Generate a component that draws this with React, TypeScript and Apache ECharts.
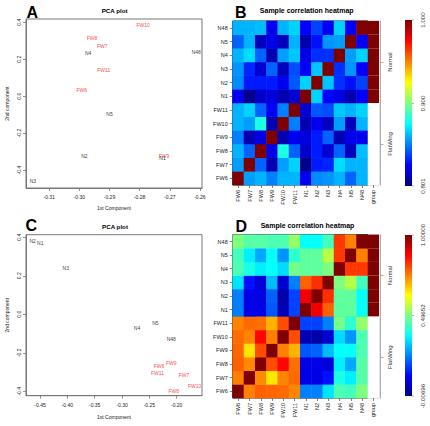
import React, { useEffect, useRef } from "react";
import * as echarts from "echarts";

// Sample names, in plotting order (bottom-to-top rows, left-to-right columns)
const samples = ["FW6", "FW7", "FW8", "FW9", "FW10", "FW11", "N1", "N2", "N3", "N4", "N5", "N48"];
const sampleGroup = ["FlatWing", "FlatWing", "FlatWing", "FlatWing", "FlatWing", "FlatWing",
  "Normal", "Normal", "Normal", "Normal", "Normal", "Normal"];
const heatColumns = [...samples, "group"];
const groupLevels = ["FlatWing", "Normal"];

// PCA, first analysis (panel A)
const pcaA_pc1 = [-0.2992, -0.2924, -0.2958, -0.2719, -0.2788, -0.2919, -0.2724, -0.2983, -0.3154, -0.2971, -0.29, -0.2612];
const pcaA_pc2 = [0.034, 0.274, 0.317, -0.322, 0.385, 0.144, -0.337, -0.326, -0.457, 0.236, -0.097, 0.238];
const pcaA_xTicks = [-0.31, -0.3, -0.29, -0.28, -0.27, -0.26];
const pcaA_yTicks = [-0.4, -0.2, 0, 0.2, 0.4];

// PCA, second analysis (panel C)
const pcaC_pc1 = [-0.2325, -0.1866, -0.2055, -0.2099, -0.1671, -0.235, -0.4494, -0.4634, -0.4029, -0.2725, -0.239, -0.2099];
const pcaC_pc2 = [-0.268, -0.317, -0.397, -0.254, -0.371, -0.306, 0.372, 0.382, 0.242, -0.069, -0.043, -0.131];
const pcaC_xTicks = [-0.45, -0.4, -0.35, -0.3, -0.25, -0.2];
const pcaC_yTicks = [-0.4, -0.2, 0, 0.2, 0.4];

// Sample correlation matrices (rows/cols follow `samples`)
const corrB = [
  [1, 0.857, 0.861, 0.851, 0.861, 0.861, 0.823, 0.853, 0.855, 0.861, 0.845, 0.861],
  [0.857, 1, 0.845, 0.811, 0.857, 0.867, 0.803, 0.831, 0.833, 0.869, 0.861, 0.861],
  [0.861, 0.845, 1, 0.821, 0.881, 0.845, 0.815, 0.831, 0.817, 0.845, 0.813, 0.863],
  [0.851, 0.811, 0.821, 1, 0.811, 0.823, 0.819, 0.831, 0.845, 0.811, 0.821, 0.823],
  [0.861, 0.857, 0.881, 0.811, 1, 0.851, 0.811, 0.823, 0.813, 0.857, 0.813, 0.861],
  [0.861, 0.867, 0.845, 0.823, 0.851, 1, 0.817, 0.843, 0.841, 0.865, 0.861, 0.867],
  [0.823, 0.803, 0.815, 0.819, 0.811, 0.817, 1, 0.867, 0.825, 0.821, 0.81, 0.825],
  [0.853, 0.831, 0.831, 0.831, 0.823, 0.843, 0.867, 1, 0.865, 0.835, 0.829, 0.839],
  [0.855, 0.833, 0.817, 0.845, 0.813, 0.841, 0.825, 0.865, 1, 0.835, 0.855, 0.825],
  [0.861, 0.869, 0.845, 0.811, 0.857, 0.865, 0.821, 0.835, 0.835, 1, 0.857, 0.867],
  [0.845, 0.861, 0.813, 0.821, 0.813, 0.861, 0.81, 0.829, 0.855, 0.857, 1, 0.825],
  [0.861, 0.861, 0.863, 0.823, 0.861, 0.867, 0.825, 0.839, 0.825, 0.867, 0.825, 1],
];
const corrB_range = [0.801, 1.0];
const corrB_labels = ["0.801", "0.900", "1.000"];

const corrD = [
  [1, 0.748, 0.778, 0.773, 0.768, 0.743, 0.245, 0.245, 0.345, 0.446, 0.436, 0.496],
  [0.748, 1, 0.738, 0.648, 0.743, 0.768, 0.094, 0.094, 0.134, 0.396, 0.356, 0.456],
  [0.778, 0.738, 1, 0.799, 0.869, 0.763, 0.094, 0.094, 0.084, 0.356, 0.285, 0.456],
  [0.773, 0.648, 0.799, 1, 0.748, 0.698, 0.204, 0.215, 0.305, 0.376, 0.376, 0.446],
  [0.768, 0.743, 0.869, 0.748, 1, 0.799, 0.043, 0.033, 0.074, 0.335, 0.265, 0.446],
  [0.743, 0.768, 0.763, 0.698, 0.799, 1, 0.184, 0.184, 0.245, 0.486, 0.416, 0.517],
  [0.245, 0.094, 0.094, 0.204, 0.043, 0.184, 1, 0.889, 0.778, 0.466, 0.466, 0.376],
  [0.245, 0.094, 0.094, 0.215, 0.033, 0.184, 0.889, 1, 0.829, 0.466, 0.466, 0.376],
  [0.345, 0.134, 0.084, 0.305, 0.074, 0.245, 0.778, 0.829, 1, 0.496, 0.552, 0.436],
  [0.446, 0.396, 0.356, 0.376, 0.335, 0.486, 0.466, 0.466, 0.496, 1, 0.819, 0.819],
  [0.436, 0.356, 0.285, 0.376, 0.265, 0.416, 0.466, 0.466, 0.552, 0.819, 1, 0.748],
  [0.496, 0.456, 0.456, 0.446, 0.446, 0.517, 0.376, 0.376, 0.436, 0.819, 0.748, 1],
];
const corrD_range = [-0.00696, 1.0];
const corrD_labels = ["-0.00696", "0.49652", "1.00000"];

// ---- styling / layout ----
const FONT = "'Liberation Sans', Arial, Helvetica, sans-serif";
const JET = ["#00007F", "#0000FF", "#007FFF", "#00FFFF", "#7FFF7F", "#FFFF00", "#FF7F00", "#FF0000", "#7F0000"];
const GROUP_FILL: Record<string, string> = { Normal: "#7F0000", FlatWing: "#FFFFFF" };
const LABEL_COLOR: Record<string, string> = { Normal: "#000000", FlatWing: "#EE1111" };

const GA = { left: 26, top: 19, width: 176, height: 169 };
const GB = { left: 232.7, top: 21, width: 146.3, height: 164 };
const GC = { left: 26, top: 234.7, width: 176, height: 161 };
const GD = { left: 232.7, top: 234.7, width: 146.3, height: 163.3 };

const BAR_X = 405;
const BAR_W = 7;

function pcaSeries(pc1: number[], pc2: number[], xAxisIndex: number, yAxisIndex: number) {
  return groupLevels.map((g) => ({
    type: "scatter",
    xAxisIndex,
    yAxisIndex,
    symbol: "circle",
    symbolSize: 1,
    itemStyle: { color: "rgba(0,0,0,0)" },
    silent: true,
    label: {
      show: true,
      position: "inside",
      formatter: "{b}",
      fontSize: 5,
      fontFamily: FONT,
      color: LABEL_COLOR[g],
      textBorderWidth: 0,
      textBorderColor: "rgba(0,0,0,0)",
    },
    data: samples
      .map((s, i) => ({ name: s, value: [pc1[i], pc2[i]], g: sampleGroup[i] }))
      .filter((d) => d.g === g)
      .map((d) => ({ name: d.name, value: d.value })),
  }));
}

function heatData(m: number[][]) {
  const out: number[][] = [];
  m.forEach((row, i) => row.forEach((v, j) => out.push([j, i, v])));
  return out;
}

function groupSeries(xAxisIndex: number, yAxisIndex: number) {
  return {
    type: "custom",
    xAxisIndex,
    yAxisIndex,
    silent: true,
    data: samples.map((s, i) => [samples.length, i, sampleGroup[i] === "Normal" ? 1 : 0]),
    renderItem: (params: any, api: any) => {
      const p = api.coord([api.value(0), api.value(1)]);
      const sz = api.size([1, 1]);
      return {
        type: "rect",
        shape: { x: p[0] - sz[0] / 2, y: p[1] - sz[1] / 2, width: sz[0], height: sz[1] },
        style: { fill: api.value(2) ? GROUP_FILL.Normal : GROUP_FILL.FlatWing, stroke: null },
      };
    },
  };
}

function pcaXAxis(gridIndex: number, min: number, max: number, ticks: number[], gap: number, margin: number) {
  return {
    type: "value",
    gridIndex,
    position: "bottom",
    min,
    max,
    name: "1st Component",
    nameLocation: "middle",
    nameGap: gap,
    nameTextStyle: { fontSize: 5, fontFamily: FONT, color: "#222" },
    axisLine: { show: true, onZero: false, lineStyle: { color: "#777", width: 1 } },
    axisTick: { show: true, length: 3, customValues: ticks, lineStyle: { color: "#777", width: 0.8 } },
    axisLabel: {
      customValues: ticks,
      formatter: (v: number) => v.toFixed(2),
      fontSize: 5,
      fontFamily: FONT,
      color: "#222",
      margin,
    },
    splitLine: { show: false },
  };
}

function pcaYAxis(gridIndex: number, min: number, max: number, ticks: number[]) {
  return {
    type: "value",
    gridIndex,
    position: "left",
    min,
    max,
    name: "2nd component",
    nameLocation: "middle",
    nameGap: 17,
    nameTextStyle: { fontSize: 5, fontFamily: FONT, color: "#222" },
    axisLine: { show: true, onZero: false, lineStyle: { color: "#777", width: 1 } },
    axisTick: { show: true, length: 3, customValues: ticks, lineStyle: { color: "#777", width: 0.8 } },
    axisLabel: {
      customValues: ticks,
      formatter: (v: number) => v.toFixed(1),
      rotate: 90,
      fontSize: 5,
      fontFamily: FONT,
      color: "#222",
      margin: 5,
    },
    splitLine: { show: false },
  };
}

function heatXAxis(gridIndex: number) {
  return {
    type: "category",
    gridIndex,
    position: "bottom",
    data: heatColumns,
    axisLine: { show: false, onZero: false },
    axisTick: { show: true, alignWithLabel: true, length: 3, lineStyle: { color: "#666", width: 0.8 } },
    axisLabel: { rotate: 90, interval: 0, fontSize: 5.5, fontFamily: FONT, color: "#222", margin: 5 },
    splitLine: { show: false },
  };
}

function heatYAxis(gridIndex: number) {
  return {
    type: "category",
    gridIndex,
    position: "left",
    data: samples,
    axisLine: { show: false, onZero: false },
    axisTick: { show: true, alignWithLabel: true, length: 3, lineStyle: { color: "#666", width: 0.8 } },
    axisLabel: { interval: 0, fontSize: 5.5, fontFamily: FONT, color: "#222", margin: 5 },
    splitLine: { show: false },
  };
}

function groupAxis(gridIndex: number) {
  return {
    type: "category",
    gridIndex,
    position: "right",
    offset: 1.5,
    data: groupLevels,
    axisLine: { show: true, onZero: false, lineStyle: { color: "#999", width: 0.8 } },
    axisTick: { show: true, alignWithLabel: true, length: 3, lineStyle: { color: "#999", width: 0.8 } },
    axisLabel: { rotate: 90, fontSize: 6, fontFamily: FONT, color: "#333", margin: 6 },
    splitLine: { show: false },
  };
}

function blockLines(g: { left: number; top: number; width: number; height: number }) {
  const cw = g.width / heatColumns.length;
  const half = samples.length / 2;
  const right = g.left + cw * samples.length;
  const midY = g.top + g.height / 2;
  const line = { stroke: "#000", lineWidth: 0.9 };
  return [
    { type: "rect", silent: true, shape: { x: g.left, y: g.top, width: cw * samples.length, height: g.height }, style: { fill: "none", ...line } },
    { type: "line", silent: true, shape: { x1: g.left + cw * half, y1: g.top, x2: g.left + cw * half, y2: g.top + g.height }, style: line },
    { type: "line", silent: true, shape: { x1: g.left, y1: midY, x2: right, y2: midY }, style: line },
    { type: "rect", silent: true, shape: { x: right, y: g.top, width: cw, height: g.height }, style: { fill: "none", stroke: "#aaa", lineWidth: 0.6 } },
  ];
}

function colorBar(top: number, height: number, range: number[], labels: string[]) {
  // top of the bar is the maximum, so run the palette from last to first
  const stops = JET.slice().reverse().map((c, i) => ({ offset: i / (JET.length - 1), color: c }));
  const els: any[] = [
    {
      type: "rect",
      silent: true,
      shape: { x: BAR_X, y: top, width: BAR_W, height },
      style: { fill: new echarts.graphic.LinearGradient(0, 0, 0, 1, stops) },
    },
  ];
  labels.forEach((t) => {
    const v = parseFloat(t);
    const y = top + ((range[1] - v) / (range[1] - range[0])) * height;
    els.push({
      type: "line",
      silent: true,
      shape: { x1: BAR_X + BAR_W, y1: y, x2: BAR_X + BAR_W + 2, y2: y },
      style: { stroke: "#888", lineWidth: 0.6 },
    });
    els.push({
      type: "text",
      silent: true,
      x: 422,
      y,
      rotation: Math.PI / 2,
      style: { text: t, fontSize: 6.2, fontFamily: FONT, fill: "#333", align: "center", verticalAlign: "middle" },
    });
  });
  return els;
}

function caption(text: string, x: number, y: number, size: number) {
  return {
    type: "text",
    silent: true,
    x,
    y,
    style: { text, fontSize: size, fontWeight: "bold", fontFamily: FONT, fill: "#000", align: "center", verticalAlign: "middle" },
  };
}

function panelLetter(text: string, x: number, y: number) {
  return {
    type: "text",
    silent: true,
    x,
    y,
    style: { text, fontSize: 16, fontWeight: "bold", fontFamily: FONT, fill: "#000", align: "left", verticalAlign: "top" },
  };
}

function buildOption() {
  return {
    animation: false,
    backgroundColor: "#fff",
    grid: [
      { ...GA, show: true, borderColor: "#777", borderWidth: 1, containLabel: false },
      { ...GB, containLabel: false },
      { ...GC, show: true, borderColor: "#777", borderWidth: 1, containLabel: false },
      { ...GD, containLabel: false },
    ],
    xAxis: [
      pcaXAxis(0, -0.3177, -0.2593, pcaA_xTicks, 17, 6),
      heatXAxis(1),
      pcaXAxis(2, -0.4756, -0.1537, pcaC_xTicks, 18.5, 7),
      heatXAxis(3),
    ],
    yAxis: [
      heatYAxis(1),
      groupAxis(1),
      pcaYAxis(0, -0.497, 0.418, pcaA_yTicks),
      pcaYAxis(2, -0.423, 0.4135, pcaC_yTicks),
      heatYAxis(3),
      groupAxis(3),
    ],
    visualMap: [
      { type: "continuous", show: false, seriesIndex: 2, min: corrB_range[0], max: corrB_range[1], inRange: { color: JET } },
      { type: "continuous", show: false, seriesIndex: 6, min: corrD_range[0], max: corrD_range[1], inRange: { color: JET } },
    ],
    series: [
      ...pcaSeries(pcaA_pc1, pcaA_pc2, 0, 2),
      { type: "heatmap", xAxisIndex: 1, yAxisIndex: 0, data: heatData(corrB), silent: true },
      groupSeries(1, 0),
      ...pcaSeries(pcaC_pc1, pcaC_pc2, 2, 3),
      { type: "heatmap", xAxisIndex: 3, yAxisIndex: 4, data: heatData(corrD), silent: true },
      groupSeries(3, 4),
    ],
    graphic: [
      ...blockLines(GB),
      ...blockLines(GD),
      ...colorBar(20, 166, corrB_range, corrB_labels),
      ...colorBar(235, 161, corrD_range, corrD_labels),
      caption("PCA plot", 114.7, 10, 6.2),
      caption("PCA plot", 115, 226.3, 6.2),
      caption("Sample correlation heatmap", 306.7, 10, 7),
      caption("Sample correlation heatmap", 307.5, 225.7, 7),
      panelLetter("A", 26.5, 4.5),
      panelLetter("B", 235, 4.5),
      panelLetter("C", 25.5, 217.5),
      panelLetter("D", 235.5, 218.5),
    ],
  };
}

export default function App() {
  const ref = useRef<HTMLDivElement>(null);
  useEffect(() => {
    if (!ref.current) return;
    const chart = echarts.init(ref.current, null, { renderer: "svg", width: 430, height: 426 });
    chart.setOption(buildOption() as any);
    return () => chart.dispose();
  }, []);
  return (
    <div
      ref={ref}
      style={{ position: "fixed", left: 0, top: 0, width: 430, height: 426, background: "#fff" }}
    />
  );
}
